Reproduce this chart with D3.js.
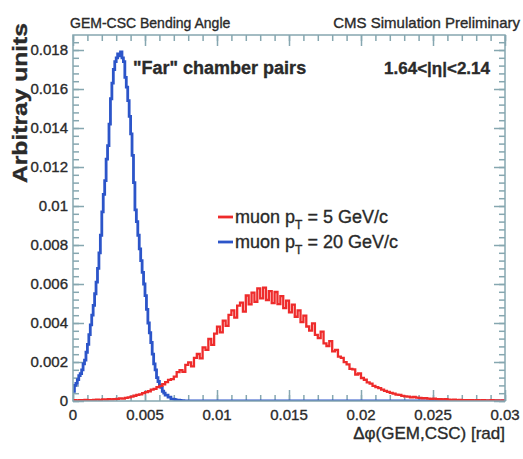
<!DOCTYPE html>
<html>
<head>
<meta charset="utf-8">
<script src="https://cdn.jsdelivr.net/npm/d3@7"></script>
<style>
body { margin: 0; background: #fff; }
text { font-family: "Liberation Sans", Arial, sans-serif; fill: #2a2a2a; stroke: #2a2a2a; stroke-width: 0.35; }
</style>
</head>
<body>
<div id="chart"></div>
<script>
//Width and height
var w = 523;
var h = 459;

//Data: histogram contents, bin width and axis labels
var blueBinWidth = 0.0001;
var blueValues = [
0.0005,0.0008,0.0009,0.0011,0.0013,0.0014,0.0016,0.0019,0.0021,0.0025,
0.0029,0.0034,0.0039,0.0044,0.0049,0.0055,0.0061,0.0068,0.0076,0.0085,
0.0097,0.0106,0.0113,0.0124,0.0131,0.0142,0.0155,0.0163,0.0170,0.0174,
0.0176,0.0178,0.0177,0.0179,0.0176,0.0174,0.0166,0.0161,0.0154,0.0146,
0.0137,0.0126,0.0112,0.0098,0.0092,0.0085,0.0078,0.0072,0.0066,0.0060,
0.0054,0.0047,0.0040,0.0035,0.0030,0.0024,0.0019,0.0016,0.0012,0.0010,
0.0008,0.0007,0.0005,0.0004,0.0003,0.0003,0.0002,0.0002,0.0001,0.0001,
0.00008,0.00006,0.00005,0.00004,0.00003,0.00002,0.00002,0.00001,0.00001,0
];

var redBinWidth = 0.0002;
var redValues = [
0.00004,0.00003,0.00005,0.00004,0.00006,0.00005,0.00004,0.00006,0.00007,0.00005,
0.00008,0.00007,0.00009,0.00008,0.0001,0.00011,0.00013,0.00012,0.00016,0.00019,
0.00022,0.00027,0.00031,0.00034,0.0004,0.00046,0.0005,0.00058,0.00062,0.00071,
0.00078,0.00086,0.00097,0.00108,0.00112,0.00125,0.00148,0.00158,0.00149,0.00185,
0.00198,0.00178,0.00221,0.00241,0.00219,0.00275,0.00262,0.00318,0.00288,0.00346,
0.00381,0.00352,0.00412,0.00385,0.00442,0.00465,0.00428,0.00489,0.00505,0.00458,
0.00541,0.00496,0.00556,0.00508,0.00578,0.00526,0.00581,0.00518,0.00564,0.00502,
0.00559,0.00497,0.00538,0.00476,0.00515,0.00455,0.00494,0.00432,0.00465,0.00405,
0.00438,0.00382,0.00361,0.00398,0.00339,0.00322,0.00356,0.00296,0.00282,0.00307,
0.00255,0.00262,0.00228,0.00221,0.00199,0.00188,0.00165,0.00162,0.00136,0.00141,
0.00118,0.00109,0.00096,0.00089,0.00078,0.00071,0.00066,0.00058,0.00052,0.00047,
0.00042,0.00038,0.00033,0.00031,0.00026,0.00024,0.00022,0.00019,0.00021,0.00017,
0.00016,0.00014,0.00015,0.00012,0.00011,0.00012,0.0001,0.00009,0.00008,0.00009,
0.00007,0.00006,0.00007,0.00005,0.00006,0.00005,0.00004,0.00005,0.00004,0.00003,
0.00004,0.00003,0.00004,0.00003,0.00003,0.00004,0.00003,0.00003,0.00002,0.00003
];

var xTickValues = [0, 0.005, 0.01, 0.015, 0.02, 0.025, 0.03];
var xTickLabels = ["0", "0.005", "0.01", "0.015", "0.02", "0.025", "0.03"];
var yTickValues = [0, 0.002, 0.004, 0.006, 0.008, 0.01, 0.012, 0.014, 0.016, 0.018];
var yTickLabels = ["0", "0.002", "0.004", "0.006", "0.008", "0.01", "0.012", "0.014", "0.016", "0.018"];

var seriesNames = ["5", "20"];

var frameLeft = 73, frameRight = 505, frameTop = 35, frameBottom = 401;
var frameColor = "#86a7b0";

//Create scales
var xScale = d3.scaleLinear()
.domain([0, 0.03])
.range([frameLeft, frameRight]);

var yScale = d3.scaleLinear()
.domain([0, 0.01877])
.range([frameBottom, frameTop]);

//Create svg
var svg = d3.select("#chart")
.append("svg")
.attr("width", w)
.attr("height", h);

svg.append("clipPath")
.attr("id", "frame-area")
.append("rect")
.attr("x", frameLeft)
.attr("y", frameTop)
.attr("width", frameRight - frameLeft)
.attr("height", frameBottom - frameTop);

//Step line for a histogram
var stepLine = d3.line()
.x(function(d) { return xScale(d[0]); })
.y(function(d) { return yScale(d[1]); })
.curve(d3.curveStepAfter);

function histPoints(values, binWidth) {
	var pts = values.map(function(v, i) { return [i * binWidth, v]; });
	var last = values.length * binWidth;
	pts.push([last, 0]);
	if (last < 0.03) pts.push([0.03, 0]);
	return pts;
}

//Axes: major and minor ticks, all four sides
function drawTicks(axisFn, scale, values, size, transform) {
	var g = svg.append("g")
	.attr("transform", transform)
	.call(axisFn(scale).tickValues(values).tickSize(size).tickFormat(""));
	g.select(".domain").remove();
	g.selectAll("line").attr("stroke", frameColor).attr("stroke-width", 1.5);
}

var xMinor = d3.range(0, 0.03001, 0.001);
var yMinor = d3.range(0, 0.0187, 0.0004);

drawTicks(d3.axisBottom, xScale, xMinor, -6, "translate(0," + frameBottom + ")");
drawTicks(d3.axisBottom, xScale, xTickValues, -11, "translate(0," + frameBottom + ")");
drawTicks(d3.axisTop, xScale, xMinor, -6, "translate(0," + frameTop + ")");
drawTicks(d3.axisTop, xScale, xTickValues, -11, "translate(0," + frameTop + ")");
drawTicks(d3.axisLeft, yScale, yMinor, -6, "translate(" + frameLeft + ",0)");
drawTicks(d3.axisLeft, yScale, yTickValues, -11, "translate(" + frameLeft + ",0)");
drawTicks(d3.axisRight, yScale, yMinor, -6, "translate(" + frameRight + ",0)");
drawTicks(d3.axisRight, yScale, yTickValues, -11, "translate(" + frameRight + ",0)");

//Histograms
var plot = svg.append("g").attr("clip-path", "url(#frame-area)");

plot.append("path")
.datum(histPoints(blueValues, blueBinWidth))
.attr("d", stepLine)
.attr("fill", "none")
.attr("stroke", "#2c55c9")
.attr("stroke-width", 2.8);

plot.append("path")
.datum(histPoints(redValues, redBinWidth))
.attr("d", stepLine)
.attr("fill", "none")
.attr("stroke", "#ee2b2b")
.attr("stroke-width", 2.3);

//Frame
svg.append("rect")
.attr("x", frameLeft)
.attr("y", frameTop)
.attr("width", frameRight - frameLeft)
.attr("height", frameBottom - frameTop)
.attr("fill", "none")
.attr("stroke", frameColor)
.attr("stroke-width", 1.5);

//Tick labels
svg.selectAll(".xlab")
.data(xTickValues)
.enter()
.append("text")
.attr("x", function(d) { return xScale(d); })
.attr("y", 420)
.attr("text-anchor", "middle")
.attr("font-size", 15)
.text(function(d, i) { return xTickLabels[i]; });

svg.selectAll(".ylab")
.data(yTickValues)
.enter()
.append("text")
.attr("x", frameLeft - 5)
.attr("y", function(d) { return yScale(d) + 5; })
.attr("text-anchor", "end")
.attr("font-size", 15)
.text(function(d, i) { return yTickLabels[i]; });

//Titles
svg.append("text")
.attr("x", 70).attr("y", 28)
.attr("font-size", 14)
.text("GEM-CSC Bending Angle");

svg.append("text")
.attr("x", 520).attr("y", 28)
.attr("text-anchor", "end")
.attr("font-size", 15)
.text("CMS Simulation Preliminary");

svg.append("text")
.attr("transform", "translate(27,23) rotate(-90)")
.attr("text-anchor", "end")
.attr("font-size", 21)
.attr("font-weight", "bold")
.attr("textLength", 160)
.attr("lengthAdjust", "spacingAndGlyphs")
.text("Arbitray units");

svg.append("text")
.attr("x", 505).attr("y", 439)
.attr("text-anchor", "end")
.attr("font-size", 17)
.text("Δφ(GEM,CSC) [rad]");

svg.append("text")
.attr("x", 133).attr("y", 74)
.attr("font-size", 18)
.attr("font-weight", "bold")
.text("\"Far\" chamber pairs");

svg.append("text")
.attr("x", 490).attr("y", 74)
.attr("text-anchor", "end")
.attr("font-size", 17)
.attr("font-weight", "bold")
.text("1.64<|η|<2.14");

//Legend
var legendColors = ["#ee2b2b", "#2c55c9"];
var legend = svg.selectAll(".legend")
.data(seriesNames)
.enter()
.append("g")
.attr("transform", function(d, i) { return "translate(0," + (223 + i * 25) + ")"; });

legend.append("line")
.attr("x1", 218).attr("x2", 233)
.attr("y1", -6).attr("y2", -6)
.attr("stroke", function(d, i) { return legendColors[i]; })
.attr("stroke-width", 2.8);

var lt = legend.append("text")
.attr("x", 235)
.attr("font-size", 18);
lt.append("tspan").text("muon p");
lt.append("tspan").attr("dy", 6).attr("font-size", 12).text("T");
lt.append("tspan").attr("dy", -6).text(function(d) { return " = " + d + " GeV/c"; });
</script>
</body>
</html>
